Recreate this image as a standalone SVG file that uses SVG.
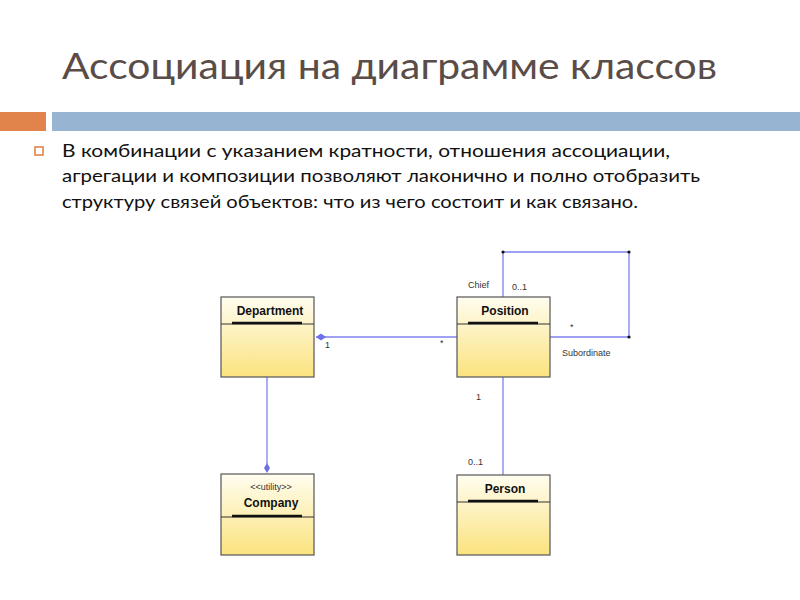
<svg xmlns="http://www.w3.org/2000/svg" width="800" height="600" viewBox="0 0 800 600">
<defs>
<linearGradient id="g" x1="0" y1="0" x2="0" y2="1"><stop offset="0" stop-color="#fffdf0"/><stop offset="1" stop-color="#fbe37e"/></linearGradient>
<style>
.box{fill:url(#g);stroke:#555;stroke-width:1.2}
.ln{stroke:#8080f0;stroke-width:1.3;fill:none}
.nm{font-family:"Liberation Sans",Arial,sans-serif;font-size:12px;font-weight:bold;text-anchor:middle;fill:#111}
.lb{font-family:"Liberation Sans",Arial,sans-serif;font-size:9px;fill:#333}
.bar{stroke:#111;stroke-width:2.5}
.sep{stroke:#333;stroke-width:1}
</style>
</defs>
<rect width="800" height="600" fill="#fff"/>
<text x="62" y="79" font-family="Lato,'Open Sans',sans-serif" font-size="36" fill="#5a4d48" textLength="655" lengthAdjust="spacingAndGlyphs">Ассоциация на диаграмме классов</text>
<rect x="0" y="112" width="46" height="19" fill="#e0844c"/>
<rect x="52" y="112" width="748" height="19" fill="#97b5d2"/>
<rect x="35" y="147" width="8" height="8" fill="none" stroke="#e0844c" stroke-width="1.6"/>
<g font-family="Lato,'Open Sans',sans-serif" font-size="18" fill="#111">
<text x="62" y="157" textLength="608" lengthAdjust="spacingAndGlyphs">В комбинации с указанием кратности, отношения ассоциации,</text>
<text x="62" y="182" textLength="638" lengthAdjust="spacingAndGlyphs">агрегации и композиции позволяют лаконично и полно отобразить</text>
<text x="62" y="208" textLength="576" lengthAdjust="spacingAndGlyphs">структуру связей объектов: что из чего состоит и как связано.</text>
</g>
<g id="connectors">
<path class="ln" d="M316 337 H457"/>
<path d="M316 337 l5 -3.5 l5 3.5 l-5 3.5z" fill="#6f6fe8"/>
<path class="ln" d="M267 377 V470"/>
<path d="M267 473 l-3 -5 l3 -5 l3 5z" fill="#6f6fe8"/>
<path class="ln" d="M503 297 V252 H629 V337 H550"/>
<circle cx="503" cy="252" r="1.6" fill="#111"/><circle cx="629" cy="252" r="1.6" fill="#111"/><circle cx="629" cy="337" r="1.6" fill="#111"/>
<path class="ln" d="M503 377 V475"/>
<text class="lb" x="325" y="348">1</text>
<text class="lb" x="440" y="346">*</text>
<text class="lb" x="468" y="288">Chief</text>
<text class="lb" x="512" y="290">0..1</text>
<text class="lb" x="570" y="330">*</text>
<text class="lb" x="562" y="356">Subordinate</text>
<text class="lb" x="476" y="400">1</text>
<text class="lb" x="468" y="465">0..1</text>
</g>
<g id="department">
<rect class="box" x="221" y="297" width="93" height="80"/>
<line class="sep" x1="221" y1="324" x2="314" y2="324"/>
<line class="bar" x1="232" y1="323" x2="302" y2="323"/>
<text class="nm" x="270" y="315">Department</text>
</g>
<g id="position">
<rect class="box" x="457" y="297" width="93" height="80"/>
<line class="sep" x1="457" y1="324" x2="550" y2="324"/>
<line class="bar" x1="468" y1="323" x2="538" y2="323"/>
<text class="nm" x="505" y="315">Position</text>
</g>
<g id="company">
<rect class="box" x="221" y="474" width="93" height="81"/>
<line class="sep" x1="221" y1="517" x2="314" y2="517"/>
<line class="bar" x1="232" y1="516" x2="302" y2="516"/>
<text class="lb" x="271" y="490" text-anchor="middle">&lt;&lt;utility&gt;&gt;</text>
<text class="nm" x="271" y="507">Company</text>
</g>
<g id="person">
<rect class="box" x="457" y="475" width="93" height="80"/>
<line class="sep" x1="457" y1="502" x2="550" y2="502"/>
<line class="bar" x1="468" y1="501" x2="538" y2="501"/>
<text class="nm" x="505" y="493">Person</text>
</g>
</svg>
